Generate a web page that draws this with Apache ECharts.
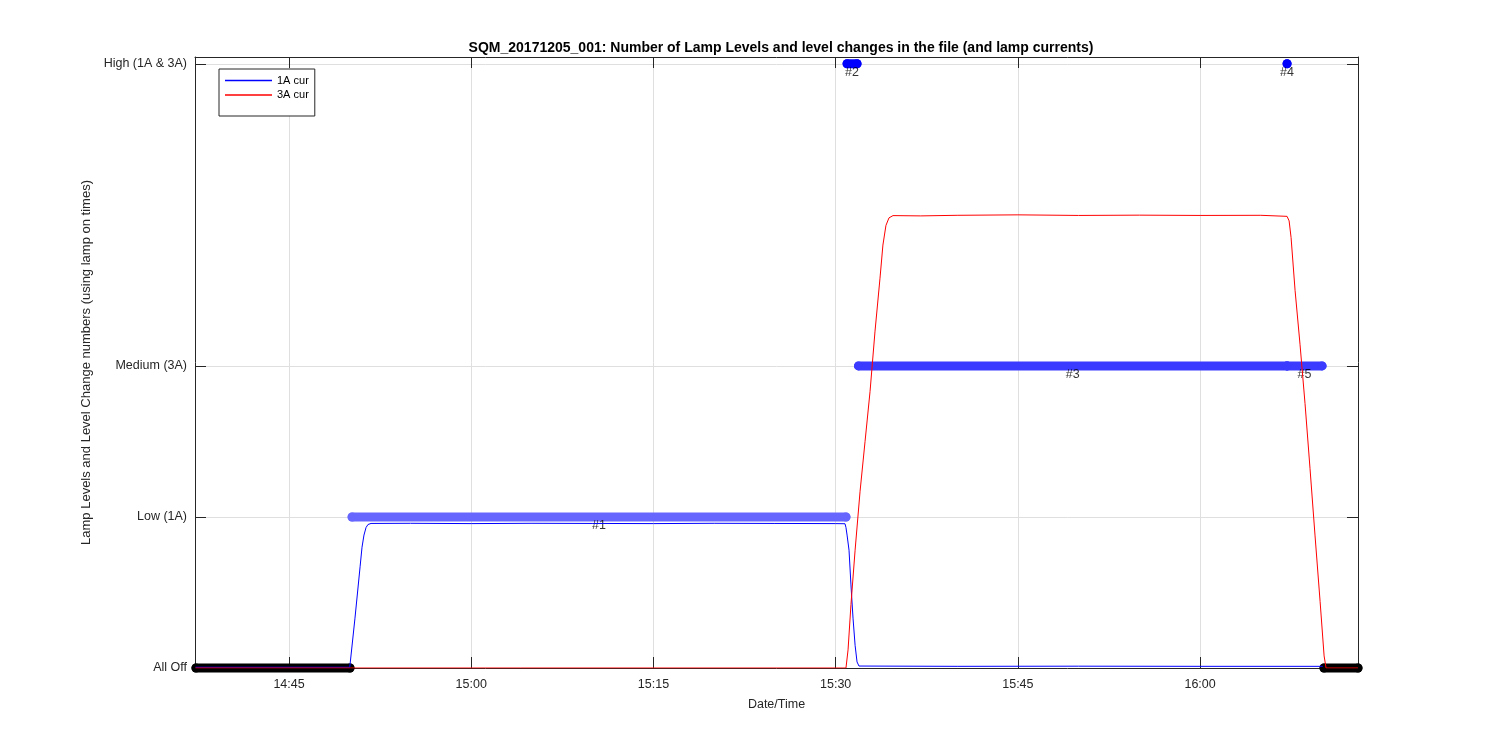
<!DOCTYPE html>
<html>
<head>
<meta charset="utf-8">
<script src="https://cdn.jsdelivr.net/npm/echarts@6/dist/echarts.min.js"></script>
<style>html,body{margin:0;padding:0;background:#fff}#c{width:1500px;height:750px}</style>
</head>
<body>
<div id="c"></div>
<script>
// ---- data (time in minutes since midnight) ----
const xTickValues = [885, 900, 915, 930, 945, 960];
const xTickLabels = ['14:45', '15:00', '15:15', '15:30', '15:45', '16:00'];
const yTickValues = [0, 1, 2, 4];
const yTickLabels = ['All Off', 'Low (1A)', 'Medium (3A)', 'High (1A & 3A)'];

// level change segments (lamp on times)
const levelLabel = ['#1', '#2', '#3', '#4', '#5'];
const levelStart = [890.19, 930.94, 931.88, 967.16, 967.16];
const levelEnd   = [930.85, 931.76, 967.16, 967.16, 970.04];
const levelValue = [1, 4, 2, 4, 2];
// all-off segments
const offStart = [877.34, 970.20];
const offEnd   = [890.02, 973.00];

// 1A lamp current
const cur1Time = [877.3, 890.0, 890.43, 890.85, 891.01, 891.17, 891.34, 891.5, 891.75, 895, 900, 905, 910, 915, 920, 925, 930, 930.77, 930.85, 930.94, 931.10, 931.26, 931.43, 931.60, 931.76, 931.92, 940, 950, 960, 970.1];
const cur1Val  = [0.005, 0.005, 0.33, 0.67, 0.80, 0.88, 0.93, 0.95, 0.957, 0.958, 0.956, 0.958, 0.957, 0.956, 0.958, 0.957, 0.956, 0.955, 0.93, 0.88, 0.78, 0.55, 0.33, 0.15, 0.04, 0.013, 0.011, 0.012, 0.011, 0.011];
// 3A lamp current
const cur3Time = [877.3, 930.85, 931.02, 931.26, 931.60, 932.01, 932.42, 932.83, 933.24, 933.65, 933.89, 934.14, 934.39, 934.72, 937, 940, 945, 950, 955, 960, 965, 967.16, 967.33, 967.49, 967.82, 968.23, 968.64, 969.05, 969.46, 969.88, 970.21, 970.37, 973.0];
const cur3Val  = [0.0, 0.0, 0.12, 0.42, 0.78, 1.17, 1.50, 1.83, 2.23, 2.58, 2.80, 2.93, 2.98, 2.995, 2.993, 2.997, 3.0, 2.996, 2.998, 2.996, 2.997, 2.99, 2.96, 2.85, 2.5, 2.14, 1.75, 1.32, 0.88, 0.44, 0.08, 0.0, 0.0];

// ---- styles ----
const levelColors = ['#6666ff', '#0000ff', '#3b3bff', '#0000ff', '#3b3bff'];
const axisColor = '#262626';
const gridColor = '#dfdfdf';
const FONT = 'Liberation Sans, Arial, Helvetica, sans-serif';
const X_MIN = 877.26, X_MAX = 973.0, Y_MIN = 0, Y_MAX = 4.045;

const series = [];
// grid lines
series.push({
  type: 'line', data: [], silent: true, z: 0,
  markLine: {
    silent: true, symbol: 'none', animation: false, label: {show: false}, z: 0,
    lineStyle: {color: gridColor, type: 'solid', width: 1},
    emphasis: {disabled: true},
    data: xTickValues.map(v => ({xAxis: v})).concat(yTickValues.map(v => ({yAxis: v})))
  }
});
// level segments
levelLabel.forEach((lab, i) => {
  series.push({
    name: 'lvl' + lab, type: 'line', clip: false, z: 2,
    data: [[levelStart[i], levelValue[i]], [levelEnd[i], levelValue[i]]],
    symbol: 'circle', symbolSize: 9, showSymbol: true,
    itemStyle: {color: levelColors[i]},
    lineStyle: {color: levelColors[i], width: 9, cap: 'round'},
    emphasis: {disabled: true}, silent: true
  });
});
offStart.forEach((s, i) => {
  series.push({
    name: 'off' + i, type: 'line', clip: false, z: 2,
    data: [[s, 0], [offEnd[i], 0]],
    symbol: 'circle', symbolSize: 9, showSymbol: true,
    itemStyle: {color: '#000000'},
    lineStyle: {color: '#000000', width: 9, cap: 'round'},
    emphasis: {disabled: true}, silent: true
  });
});
// labels
series.push({
  name: 'labels', type: 'scatter', z: 3, silent: true,
  symbolSize: 1, itemStyle: {color: 'rgba(0,0,0,0)'},
  data: levelLabel.map((lab, i) => ({value: [(levelStart[i] + levelEnd[i]) / 2, levelValue[i]], name: lab})),
  label: {show: true, position: 'inside', offset: [0, 9], formatter: p => p.name,
    color: '#000', fontFamily: FONT, fontSize: 12.5}
});
series.push({
  name: '1A cur', type: 'line', z: 4, showSymbol: false, symbol: 'none', silent: true,
  data: cur1Time.map((t, i) => [t, cur1Val[i]]),
  itemStyle: {color: '#0000ff'}, lineStyle: {color: '#0000ff', width: 1}
});
series.push({
  name: '3A cur', type: 'line', z: 5, showSymbol: false, symbol: 'none', silent: true,
  data: cur3Time.map((t, i) => [t, cur3Val[i]]),
  itemStyle: {color: '#ff0000'}, lineStyle: {color: '#ff0000', width: 1}
});

const chart = echarts.init(document.getElementById('c'), null, {renderer: 'canvas'});
chart.setOption({
  animation: false,
  backgroundColor: '#ffffff',
  title: {
    text: 'SQM_20171205_001: Number of Lamp Levels and level changes in the file (and lamp currents)',
    left: 776, top: 36, textAlign: 'center',
    textStyle: {fontFamily: FONT, fontSize: 14, fontWeight: 'bold', color: '#000'}
  },
  legend: {
    data: ['1A cur', '3A cur'], orient: 'vertical', left: 219, top: 69, z: 10,
    icon: 'rect', itemWidth: 47, itemHeight: 1.5, itemGap: 1.5,
    padding: [5, 6, 14.5, 6], backgroundColor: '#fff', borderColor: axisColor, borderWidth: 1,
    textStyle: {fontFamily: FONT, fontSize: 11, color: '#000', lineHeight: 13},
    selectedMode: false
  },
  grid: {left: 195, right: 142, top: 57, bottom: 82, containLabel: false},
  xAxis: [{
    type: 'value', min: X_MIN, max: X_MAX, position: 'bottom',
    name: 'Date/Time', nameLocation: 'middle', nameGap: 30,
    nameTextStyle: {fontFamily: FONT, fontSize: 12.5, color: axisColor},
    axisLine: {show: true, onZero: false, lineStyle: {color: axisColor, width: 1}},
    axisTick: {show: true, inside: true, length: 11, customValues: xTickValues, lineStyle: {color: axisColor}},
    axisLabel: {show: true, customValues: xTickValues, margin: 10,
      formatter: v => { const k = xTickValues.indexOf(v); return k >= 0 ? xTickLabels[k] : ''; },
      fontFamily: FONT, fontSize: 12.5, color: axisColor},
    splitLine: {show: false}
  }, {
    type: 'value', min: X_MIN, max: X_MAX, position: 'top',
    axisLine: {show: true, onZero: false, lineStyle: {color: axisColor, width: 1}},
    axisTick: {show: true, inside: true, length: 11, customValues: xTickValues, lineStyle: {color: axisColor}},
    axisLabel: {show: false}, splitLine: {show: false}
  }],
  yAxis: [{
    type: 'value', min: Y_MIN, max: Y_MAX, position: 'left',
    name: 'Lamp Levels and Level Change numbers (using lamp on times)',
    nameLocation: 'middle', nameGap: 94, nameRotate: 90,
    nameTextStyle: {fontFamily: FONT, fontSize: 13, color: axisColor},
    axisLine: {show: true, onZero: false, lineStyle: {color: axisColor, width: 1}},
    axisTick: {show: true, inside: true, length: 11, customValues: yTickValues, lineStyle: {color: axisColor}},
    axisLabel: {show: true, customValues: yTickValues, margin: 8,
      formatter: v => { const k = yTickValues.indexOf(v); return k >= 0 ? yTickLabels[k] : ''; },
      fontFamily: FONT, fontSize: 12.5, color: axisColor},
    splitLine: {show: false}
  }, {
    type: 'value', min: Y_MIN, max: Y_MAX, position: 'right',
    axisLine: {show: true, onZero: false, lineStyle: {color: axisColor, width: 1}},
    axisTick: {show: true, inside: true, length: 11, customValues: yTickValues, lineStyle: {color: axisColor}},
    axisLabel: {show: false}, splitLine: {show: false}
  }],
  series: series
});
</script>
</body>
</html>
